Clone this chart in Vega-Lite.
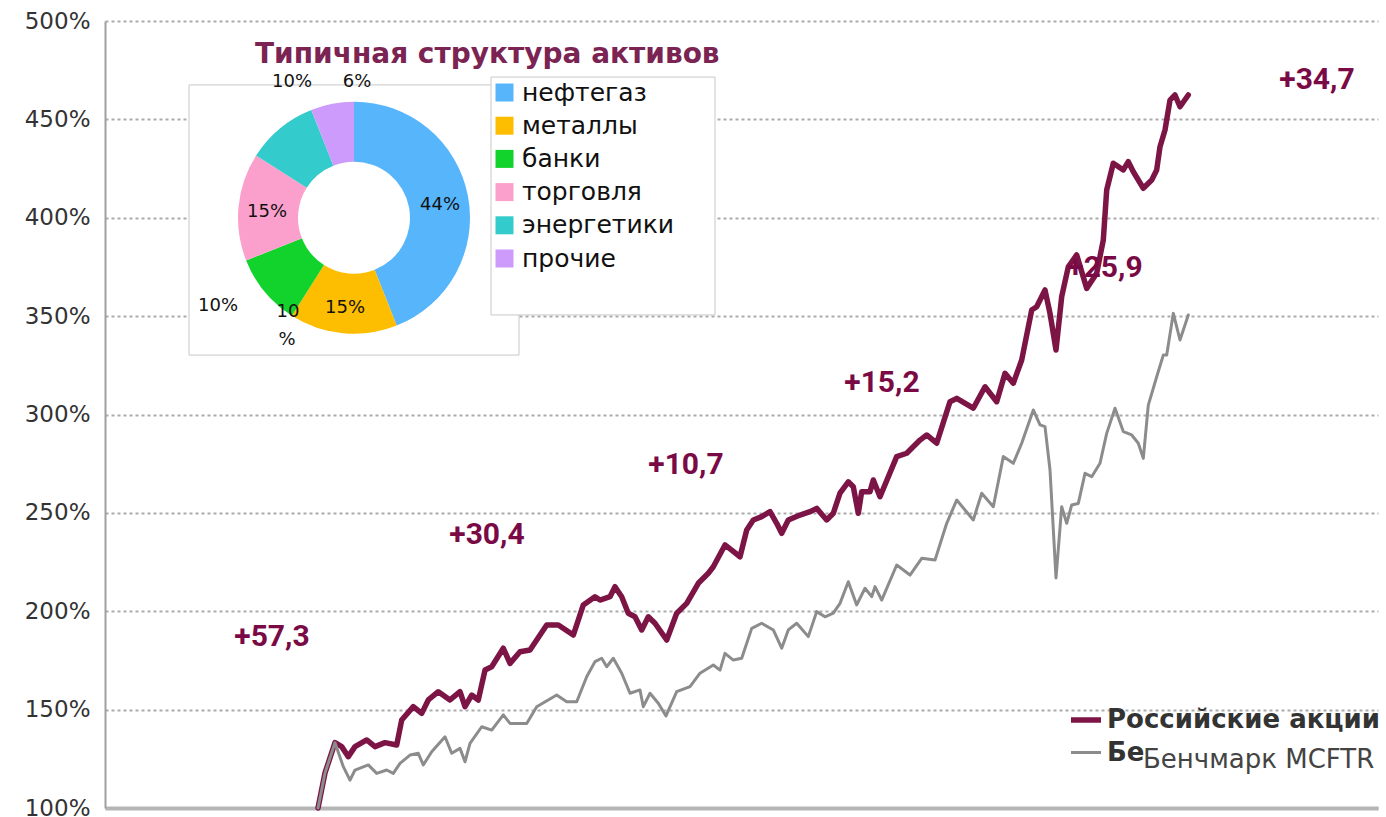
{
  "$schema": "https://vega.github.io/schema/vega-lite/v6.json",
  "width": 1273,
  "height": 787,
  "autosize": {"type": "none"},
  "padding": {"left": 105, "top": 21, "right": 8, "bottom": 9},
  "background": "white",
  "config": {"view": {"stroke": null}, "font": "DejaVu Sans"},
  "datasets": {
    "lines": [
      {"s":"Российские акции","t":213,"v":100.0},{"s":"Российские акции","t":220,"v":117.8},{"s":"Российские акции","t":230,"v":133.2},{"s":"Российские акции","t":236.7,"v":131.2},{"s":"Российские акции","t":243.3,"v":126.1},{"s":"Российские акции","t":250,"v":131.2},{"s":"Российские акции","t":261.7,"v":134.6},{"s":"Российские акции","t":270,"v":131.2},{"s":"Российские акции","t":280,"v":133.2},{"s":"Российские акции","t":291.7,"v":132.0},{"s":"Российские акции","t":296.7,"v":144.7},{"s":"Российские акции","t":308.3,"v":151.5},{"s":"Российские акции","t":316.7,"v":148.1},{"s":"Российские акции","t":323.3,"v":154.9},{"s":"Российские акции","t":333.3,"v":159.1},{"s":"Российские акции","t":345,"v":154.9},{"s":"Российские акции","t":355,"v":159.1},{"s":"Российские акции","t":360,"v":151.5},{"s":"Российские акции","t":366.7,"v":157.4},{"s":"Российские акции","t":373.3,"v":154.9},{"s":"Российские акции","t":380,"v":170.1},{"s":"Российские акции","t":386.7,"v":171.8},{"s":"Российские акции","t":398.3,"v":181.2},{"s":"Российские акции","t":405,"v":173.5},{"s":"Российские акции","t":415,"v":179.4},{"s":"Российские акции","t":425,"v":180.3},{"s":"Российские акции","t":441.7,"v":193.0},{"s":"Российские акции","t":453.3,"v":193.0},{"s":"Российские акции","t":468.3,"v":187.9},{"s":"Российские акции","t":478.3,"v":203.2},{"s":"Российские акции","t":490,"v":207.4},{"s":"Российские акции","t":495,"v":205.7},{"s":"Российские акции","t":505,"v":207.4},{"s":"Российские акции","t":510,"v":212.5},{"s":"Российские акции","t":516.7,"v":207.4},{"s":"Российские акции","t":523.3,"v":199.0},{"s":"Российские акции","t":530,"v":197.2},{"s":"Российские акции","t":536.7,"v":190.5},{"s":"Российские акции","t":543.3,"v":197.2},{"s":"Российские акции","t":550,"v":193.9},{"s":"Российские акции","t":561.7,"v":185.4},{"s":"Российские акции","t":571.7,"v":199.0},{"s":"Российские акции","t":581.7,"v":204.0},{"s":"Российские акции","t":593.3,"v":214.2},{"s":"Российские акции","t":603.3,"v":219.3},{"s":"Российские акции","t":608.3,"v":222.6},{"s":"Российские акции","t":620,"v":233.7},{"s":"Российские акции","t":626.7,"v":231.1},{"s":"Российские акции","t":635,"v":227.7},{"s":"Российские акции","t":641.7,"v":241.3},{"s":"Российские акции","t":648.3,"v":246.4},{"s":"Российские акции","t":656.7,"v":248.1},{"s":"Российские акции","t":665,"v":250.6},{"s":"Российские акции","t":671.7,"v":244.7},{"s":"Российские акции","t":676.7,"v":239.6},{"s":"Российские акции","t":683.3,"v":246.4},{"s":"Российские акции","t":695,"v":248.9},{"s":"Российские акции","t":705,"v":250.6},{"s":"Российские акции","t":711.7,"v":252.3},{"s":"Российские акции","t":721.7,"v":246.4},{"s":"Российские акции","t":728.3,"v":249.8},{"s":"Российские акции","t":735,"v":260.0},{"s":"Российские акции","t":743.3,"v":265.8},{"s":"Российские акции","t":748.3,"v":263.3},{"s":"Российские акции","t":753.3,"v":249.8},{"s":"Российские акции","t":756.7,"v":260.8},{"s":"Российские акции","t":765,"v":260.8},{"s":"Российские акции","t":768.3,"v":266.7},{"s":"Российские акции","t":775,"v":258.2},{"s":"Российские акции","t":791.7,"v":278.6},{"s":"Российские акции","t":801.7,"v":280.3},{"s":"Российские акции","t":815,"v":287.0},{"s":"Российские акции","t":821.7,"v":289.6},{"s":"Российские акции","t":831.7,"v":285.4},{"s":"Российские акции","t":845,"v":306.5},{"s":"Российские акции","t":851.7,"v":308.2},{"s":"Российские акции","t":868.3,"v":303.2},{"s":"Российские акции","t":880,"v":314.1},{"s":"Российские акции","t":891.7,"v":306.5},{"s":"Российские акции","t":900,"v":320.9},{"s":"Российские акции","t":908.3,"v":315.9},{"s":"Российские акции","t":916.7,"v":327.7},{"s":"Российские акции","t":926.7,"v":353.1},{"s":"Российские акции","t":931.7,"v":354.8},{"s":"Российские акции","t":940,"v":363.3},{"s":"Российские акции","t":945,"v":351.4},{"s":"Российские акции","t":951,"v":332.8},{"s":"Российские акции","t":956.7,"v":359.9},{"s":"Российские акции","t":963.3,"v":375.1},{"s":"Российские акции","t":971.7,"v":381.1},{"s":"Российские акции","t":981.7,"v":364.1},{"s":"Российские акции","t":991.7,"v":371.8},{"s":"Российские акции","t":998.3,"v":388.7},{"s":"Российские акции","t":1001.7,"v":414.1},{"s":"Российские акции","t":1008.3,"v":427.7},{"s":"Российские акции","t":1018.3,"v":424.3},{"s":"Российские акции","t":1023.3,"v":428.5},{"s":"Российские акции","t":1028.3,"v":423.4},{"s":"Российские акции","t":1038.3,"v":415.0},{"s":"Российские акции","t":1046.7,"v":419.2},{"s":"Российские акции","t":1051.7,"v":424.3},{"s":"Российские акции","t":1055,"v":436.1},{"s":"Российские акции","t":1060,"v":444.6},{"s":"Российские акции","t":1065,"v":459.8},{"s":"Российские акции","t":1070,"v":462.4},{"s":"Российские акции","t":1075,"v":456.4},{"s":"Российские акции","t":1083.3,"v":462.4},
      {"s":"Бенчмарк MCFTR","t":213,"v":100.0},{"s":"Бенчмарк MCFTR","t":220,"v":117.8},{"s":"Бенчмарк MCFTR","t":230,"v":133.2},{"s":"Бенчмарк MCFTR","t":238.3,"v":121.0},{"s":"Бенчмарк MCFTR","t":245,"v":114.2},{"s":"Бенчмарк MCFTR","t":250,"v":119.3},{"s":"Бенчмарк MCFTR","t":263.3,"v":121.9},{"s":"Бенчмарк MCFTR","t":271.7,"v":117.6},{"s":"Бенчмарк MCFTR","t":281.7,"v":119.3},{"s":"Бенчмарк MCFTR","t":288.3,"v":117.6},{"s":"Бенчмарк MCFTR","t":295,"v":122.7},{"s":"Бенчмарк MCFTR","t":305,"v":126.9},{"s":"Бенчмарк MCFTR","t":313.3,"v":127.8},{"s":"Бенчмарк MCFTR","t":318.3,"v":121.9},{"s":"Бенчмарк MCFTR","t":326.7,"v":128.6},{"s":"Бенчмарк MCFTR","t":340,"v":136.2},{"s":"Бенчмарк MCFTR","t":346.7,"v":127.8},{"s":"Бенчмарк MCFTR","t":355,"v":130.3},{"s":"Бенчмарк MCFTR","t":360,"v":123.5},{"s":"Бенчмарк MCFTR","t":365,"v":132.9},{"s":"Бенчмарк MCFTR","t":376.7,"v":141.3},{"s":"Бенчмарк MCFTR","t":386.7,"v":139.6},{"s":"Бенчмарк MCFTR","t":398.3,"v":147.3},{"s":"Бенчмарк MCFTR","t":405,"v":143.0},{"s":"Бенчмарк MCFTR","t":421.7,"v":143.0},{"s":"Бенчмарк MCFTR","t":431.7,"v":151.5},{"s":"Бенчмарк MCFTR","t":451.7,"v":157.4},{"s":"Бенчмарк MCFTR","t":461.7,"v":154.0},{"s":"Бенчмарк MCFTR","t":471.7,"v":154.0},{"s":"Бенчмарк MCFTR","t":481.7,"v":166.7},{"s":"Бенчмарк MCFTR","t":490,"v":174.4},{"s":"Бенчмарк MCFTR","t":496.7,"v":176.1},{"s":"Бенчмарк MCFTR","t":501.7,"v":171.8},{"s":"Бенчмарк MCFTR","t":508.3,"v":176.1},{"s":"Бенчмарк MCFTR","t":516.7,"v":168.5},{"s":"Бенчмарк MCFTR","t":525,"v":158.3},{"s":"Бенчмарк MCFTR","t":535,"v":160.0},{"s":"Бенчмарк MCFTR","t":538.3,"v":151.5},{"s":"Бенчмарк MCFTR","t":545,"v":158.3},{"s":"Бенчмарк MCFTR","t":553.3,"v":153.2},{"s":"Бенчмарк MCFTR","t":561,"v":146.8},{"s":"Бенчмарк MCFTR","t":571.7,"v":159.1},{"s":"Бенчмарк MCFTR","t":585,"v":161.7},{"s":"Бенчмарк MCFTR","t":595,"v":168.5},{"s":"Бенчмарк MCFTR","t":608.3,"v":172.7},{"s":"Бенчмарк MCFTR","t":615,"v":170.1},{"s":"Бенчмарк MCFTR","t":620,"v":178.6},{"s":"Бенчмарк MCFTR","t":628.3,"v":175.2},{"s":"Бенчмарк MCFTR","t":636.7,"v":176.1},{"s":"Бенчмарк MCFTR","t":646.7,"v":191.3},{"s":"Бенчмарк MCFTR","t":656.7,"v":193.9},{"s":"Бенчмарк MCFTR","t":668.3,"v":190.5},{"s":"Бенчмарк MCFTR","t":676.7,"v":181.2},{"s":"Бенчмарк MCFTR","t":683.3,"v":190.5},{"s":"Бенчмарк MCFTR","t":691.7,"v":193.9},{"s":"Бенчмарк MCFTR","t":703.3,"v":187.1},{"s":"Бенчмарк MCFTR","t":711.7,"v":199.8},{"s":"Бенчмарк MCFTR","t":720,"v":197.2},{"s":"Бенчмарк MCFTR","t":728.3,"v":199.0},{"s":"Бенчмарк MCFTR","t":735,"v":204.0},{"s":"Бенчмарк MCFTR","t":743.3,"v":215.0},{"s":"Бенчмарк MCFTR","t":751.7,"v":203.2},{"s":"Бенчмарк MCFTR","t":760,"v":211.7},{"s":"Бенчмарк MCFTR","t":766.7,"v":207.4},{"s":"Бенчмарк MCFTR","t":770,"v":212.5},{"s":"Бенчмарк MCFTR","t":776.7,"v":205.7},{"s":"Бенчмарк MCFTR","t":791.7,"v":223.5},{"s":"Бенчмарк MCFTR","t":805,"v":218.4},{"s":"Бенчмарк MCFTR","t":816.7,"v":226.9},{"s":"Бенчмарк MCFTR","t":830,"v":226.0},{"s":"Бенчмарк MCFTR","t":841.7,"v":244.7},{"s":"Бенчмарк MCFTR","t":851.7,"v":256.5},{"s":"Бенчмарк MCFTR","t":860,"v":251.5},{"s":"Бенчмарк MCFTR","t":868.3,"v":246.4},{"s":"Бенчмарк MCFTR","t":876.7,"v":260.0},{"s":"Бенчмарк MCFTR","t":888.3,"v":253.1},{"s":"Бенчмарк MCFTR","t":898.3,"v":278.6},{"s":"Бенчмарк MCFTR","t":908.3,"v":275.2},{"s":"Бенчмарк MCFTR","t":916.7,"v":285.4},{"s":"Бенчмарк MCFTR","t":928.3,"v":302.3},{"s":"Бенчмарк MCFTR","t":935,"v":294.7},{"s":"Бенчмарк MCFTR","t":940,"v":293.8},{"s":"Бенчмарк MCFTR","t":945,"v":271.8},{"s":"Бенчмарк MCFTR","t":951,"v":216.9},{"s":"Бенчмарк MCFTR","t":956.7,"v":253.1},{"s":"Бенчмарк MCFTR","t":961.7,"v":244.7},{"s":"Бенчмарк MCFTR","t":966.7,"v":254.0},{"s":"Бенчмарк MCFTR","t":973.3,"v":254.8},{"s":"Бенчмарк MCFTR","t":980,"v":270.1},{"s":"Бенчмарк MCFTR","t":986.7,"v":268.4},{"s":"Бенчмарк MCFTR","t":995,"v":275.2},{"s":"Бенчмарк MCFTR","t":1001.7,"v":290.4},{"s":"Бенчмарк MCFTR","t":1010,"v":303.2},{"s":"Бенчмарк MCFTR","t":1018.3,"v":291.3},{"s":"Бенчмарк MCFTR","t":1026.7,"v":289.6},{"s":"Бенчмарк MCFTR","t":1033.3,"v":285.4},{"s":"Бенчмарк MCFTR","t":1038.3,"v":277.7},{"s":"Бенчмарк MCFTR","t":1043.3,"v":304.8},{"s":"Бенчмарк MCFTR","t":1051.7,"v":319.2},{"s":"Бенчмарк MCFTR","t":1058.3,"v":330.2},{"s":"Бенчмарк MCFTR","t":1061.7,"v":330.2},{"s":"Бенчмарк MCFTR","t":1068.3,"v":351.4},{"s":"Бенчмарк MCFTR","t":1075,"v":337.9},{"s":"Бенчмарк MCFTR","t":1083.3,"v":350.6}
    ],
    "notes": [
      {"label":"+57,3","t":167,"v":186.9},
      {"label":"+30,4","t":382,"v":238.8},
      {"label":"+10,7","t":581,"v":274.3},
      {"label":"+15,2","t":777,"v":316.0},
      {"label":"+25,9","t":1000,"v":374.5},
      {"label":"+34,7","t":1212,"v":470.0}
    ],
    "sectors": [
      {"sector":"нефтегаз","share":44,"order":1},
      {"sector":"металлы","share":15,"order":2},
      {"sector":"банки","share":10,"order":3},
      {"sector":"торговля","share":15,"order":4},
      {"sector":"энергетики","share":10,"order":5},
      {"sector":"прочие","share":6,"order":6}
    ],
    "pieLabels": [
      {"label":"44%","t":335,"v":406.5},
      {"label":"15%","t":240,"v":354.1},
      {"label":"15%","t":162,"v":402.9},
      {"label":"10","t":183,"v":352.1},
      {"label":"%","t":182,"v":337.9},
      {"label":"10%","t":113,"v":355.1},
      {"label":"10%","t":187,"v":469.0},
      {"label":"6%","t":252,"v":469.0}
    ]
  },
  "layer": [
    {
      "data": {"name": "lines"},
      "mark": {"type": "line", "strokeJoin": "round", "strokeCap": "round"},
      "encoding": {
        "x": {"field": "t", "type": "quantitative", "scale": {"domain": [0, 1273], "nice": false, "zero": false},
              "axis": {"title": null, "labels": false, "ticks": false, "grid": false, "domainColor": "#b5b5b5", "domainWidth": 4}},
        "y": {"field": "v", "type": "quantitative", "scale": {"domain": [100, 500], "nice": false, "zero": false},
              "axis": {"title": null, "values": [100,150,200,250,300,350,400,450,500], "labelExpr": "datum.value + '%'",
                       "labelFont": "DejaVu Sans", "labelFontSize": 23, "labelColor": "#333333", "labelPadding": 15,
                       "ticks": false, "grid": true, "gridColor": "#ababab", "gridDash": [3, 3], "gridWidth": 2,
                       "domainColor": "#a0a0a0", "domainWidth": 2}},
        "color": {"field": "s", "type": "nominal",
                  "scale": {"domain": ["Российские акции", "Бенчмарк MCFTR"], "range": ["#7c1545", "#8c8c8c"]},
                  "legend": {"title": null, "orient": "none", "legendX": 963, "legendY": 681, "symbolType": "stroke",
                             "symbolSize": 900, "symbolStrokeWidth": 6, "labelFont": "DejaVu Sans", "labelFontSize": 26,
                             "labelFontWeight": "bold", "labelColor": "#333333", "labelLimit": 400, "rowPadding": 3, "labelOffset": 3,
                             "labelExpr": "datum.label == 'Бенчмарк MCFTR' ? 'Бе' : datum.label"}},
        "strokeWidth": {"field": "s", "type": "nominal",
                        "scale": {"domain": ["Российские акции", "Бенчмарк MCFTR"], "range": [5.5, 3]}, "legend": null}
      }
    },
    {
      "data": {"name": "notes"},
      "mark": {"type": "text", "font": "Roboto", "fontWeight": "bold", "fontSize": 30, "color": "#7a0a45", "align": "center", "baseline": "middle"},
      "encoding": {
        "x": {"field": "t", "type": "quantitative"},
        "y": {"field": "v", "type": "quantitative"},
        "text": {"field": "label"}
      }
    },
    {
      "data": {"values": [{}]},
      "mark": {"type": "rect", "fill": "white", "stroke": "#c8c8c8", "strokeWidth": 1},
      "encoding": {
        "x": {"datum": 84, "type": "quantitative"}, "x2": {"datum": 414},
        "y": {"datum": 467.5, "type": "quantitative"}, "y2": {"datum": 330.2}
      }
    },
    {
      "data": {"values": [{}]},
      "mark": {"type": "rect", "fill": "white", "stroke": "#c8c8c8", "strokeWidth": 1},
      "encoding": {
        "x": {"datum": 386, "type": "quantitative"}, "x2": {"datum": 610},
        "y": {"datum": 471.5, "type": "quantitative"}, "y2": {"datum": 350.6}
      }
    },
    {
      "data": {"name": "sectors"},
      "mark": {"type": "arc", "outerRadius": 116, "innerRadius": 56, "strokeWidth": 0},
      "encoding": {
        "x": {"datum": 249, "type": "quantitative"},
        "y": {"datum": 400, "type": "quantitative"},
        "theta": {"field": "share", "type": "quantitative", "stack": true},
        "order": {"field": "order", "type": "quantitative"},
        "color": {"field": "sector", "type": "nominal",
                  "scale": {"domain": ["нефтегаз", "металлы", "банки", "торговля", "энергетики", "прочие"],
                            "range": ["#56b5fb", "#fdbd00", "#12d32c", "#fba0cc", "#33cbcb", "#cc9bfc"]},
                  "sort": null,
                  "legend": {"title": null, "orient": "none", "legendX": 387, "legendY": 59, "symbolType": "square",
                             "symbolSize": 324, "symbolStrokeWidth": 0, "symbolOpacity": 1, "labelFont": "DejaVu Sans", "labelFontSize": 25,
                             "labelColor": "#111111", "rowPadding": 7.2, "labelOffset": 5, "labelLimit": 300}}
      }
    },
    {
      "data": {"name": "pieLabels"},
      "mark": {"type": "text", "font": "DejaVu Sans", "fontSize": 18, "color": "#111111", "align": "center", "baseline": "middle"},
      "encoding": {
        "x": {"field": "t", "type": "quantitative"},
        "y": {"field": "v", "type": "quantitative"},
        "text": {"field": "label"}
      }
    },
    {
      "data": {"values": [{}]},
      "mark": {"type": "text", "font": "DejaVu Sans", "fontSize": 28, "fontWeight": 600, "color": "#7b2352", "align": "left", "baseline": "alphabetic", "limit": 465, "ellipsis": "\u200b"},
      "encoding": {
        "x": {"datum": 150, "type": "quantitative"},
        "y": {"datum": 478.6, "type": "quantitative"},
        "text": {"value": "Типичная структура активов"}
      }
    },
    {
      "data": {"values": [{}]},
      "mark": {"type": "text", "font": "DejaVu Sans", "fontSize": 26, "color": "#444444", "align": "left", "baseline": "middle"},
      "encoding": {
        "x": {"datum": 1038, "type": "quantitative"},
        "y": {"datum": 124.4, "type": "quantitative"},
        "text": {"value": "Бенчмарк MCFTR"}
      }
    }
  ],
  "resolve": {"scale": {"color": "independent", "strokeWidth": "independent"}, "legend": {"color": "independent"}}
}
